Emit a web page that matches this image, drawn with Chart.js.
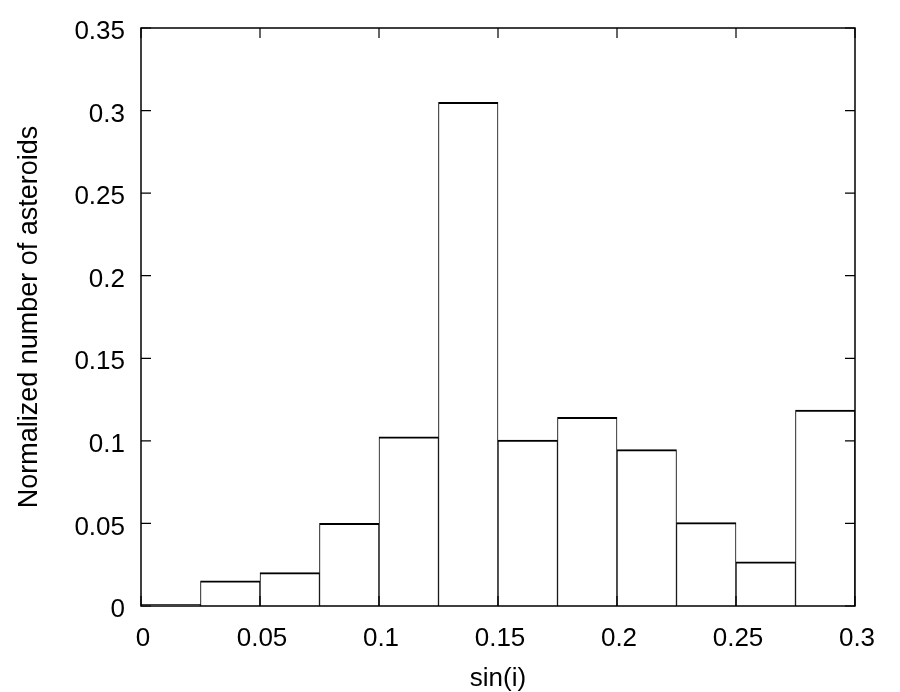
<!DOCTYPE html>
<html><head><meta charset="utf-8">
<script src="https://cdn.jsdelivr.net/npm/chart.js@4/dist/chart.umd.min.js"></script>
<style>html,body{margin:0;padding:0;background:#fff}#wrap{width:900px;height:692px}</style>
</head><body><div id="wrap"><canvas id="c" width="900" height="692"></canvas></div>
<script>
const binCenters = [0.0125,0.0375,0.0625,0.0875,0.1125,0.1375,0.1625,0.1875,0.2125,0.2375,0.2625,0.2875];
const binValues  = [0.001,0.0153,0.0202,0.050,0.1025,0.305,0.1005,0.1143,0.0947,0.0505,0.0268,0.1187];
const xTickValues = [0,0.05,0.1,0.15,0.2,0.25,0.3];
const xTickLabels = ['0','0.05','0.1','0.15','0.2','0.25','0.3'];
const yTickValues = [0,0.05,0.1,0.15,0.2,0.25,0.3,0.35];
const yTickLabels = ['0','0.05','0.1','0.15','0.2','0.25','0.3','0.35'];
const xTitle = 'sin(i)';
const yTitle = 'Normalized number of asteroids';

const FONT = "'Liberation Sans', Arial, sans-serif";
const frame = {
  id:'frame',
  afterDraw(chart){
    const {ctx, chartArea:a, scales:{x,y}} = chart;
    ctx.save();
    ctx.strokeStyle='#000'; ctx.lineWidth=1.5;
    ctx.strokeRect(a.left,a.top,a.right-a.left,a.bottom-a.top);
    ctx.lineWidth=1.2;
    const L=10;
    ctx.beginPath();
    xTickValues.forEach(v=>{const p=x.getPixelForValue(v);
      ctx.moveTo(p,a.bottom);ctx.lineTo(p,a.bottom-L);
      ctx.moveTo(p,a.top);ctx.lineTo(p,a.top+L);});
    yTickValues.forEach(v=>{const p=y.getPixelForValue(v);
      ctx.moveTo(a.left,p);ctx.lineTo(a.left+L,p);
      ctx.moveTo(a.right,p);ctx.lineTo(a.right-L,p);});
    ctx.stroke();
    ctx.restore();
  }
};
new Chart(document.getElementById('c'),{
  type:'bar',
  data:{datasets:[{
    data: binCenters.map((c,i)=>({x:c,y:binValues[i]})),
    backgroundColor:'#fff', borderColor:'#000',
    borderWidth:{top:2,left:1,right:1,bottom:0}, borderSkipped:false,
    barPercentage:1, categoryPercentage:1
  }]},
  options:{
    responsive:false, animation:false,
    layout:{padding:{top:28,right:45,left:0,bottom:0}},
    plugins:{legend:{display:false},tooltip:{enabled:false}},
    scales:{
      x:{type:'linear',min:0,max:0.3,offset:false,
        afterBuildTicks:s=>{s.ticks=xTickValues.map(v=>({value:v}));},
        afterFit:s=>{s.height=86;s.paddingLeft=0;s.paddingRight=0;},
        grid:{display:false,drawTicks:false}, border:{display:false},
        ticks:{color:'#000',padding:17,labelOffset:2,font:{family:FONT,size:26},maxRotation:0,
          callback:(v,i)=>xTickLabels[i]},
        title:{display:true,text:xTitle,color:'#000',font:{family:FONT,size:26,lineHeight:1},padding:{top:0,bottom:0}}
      },
      y:{min:0,max:0.35,
        afterBuildTicks:s=>{s.ticks=yTickValues.map(v=>({value:v}));},
        afterFit:s=>{s.width=141;s.paddingTop=0;s.paddingBottom=0;},
        grid:{display:false,drawTicks:false}, border:{display:false},
        ticks:{color:'#000',padding:16,labelOffset:4,font:{family:FONT,size:26},
          callback:(v,i)=>yTickLabels[i]},
        title:{display:true,text:yTitle,color:'#000',font:{family:FONT,size:27,lineHeight:1},padding:{top:16,bottom:0}}
      }
    }
  },
  plugins:[frame]
});
</script></body></html>
